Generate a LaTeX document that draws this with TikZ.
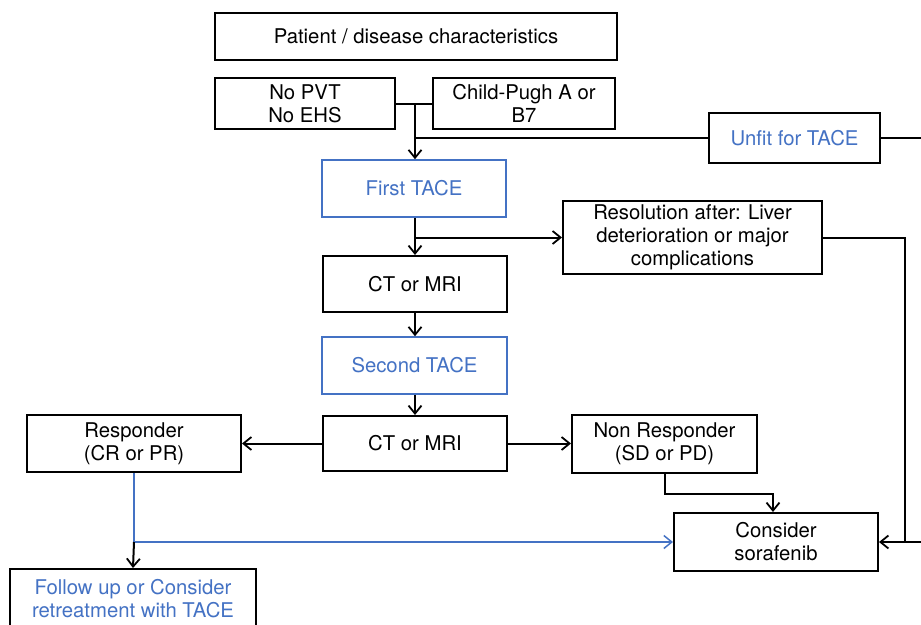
\documentclass[tikz,border=0pt]{standalone}
\usepackage{fontspec}
\setmainfont{TeX Gyre Heros}
\usetikzlibrary{arrows.meta,calc}
\definecolor{tblue}{RGB}{68,114,196}
\begin{document}
\begin{tikzpicture}[x=1pt,y=-1pt,
  box/.style={draw=black,line width=2pt,fill=white,align=center,inner sep=0pt,font=\fontsize{20.3}{23}\selectfont},
  bbox/.style={box,draw=tblue,line width=1.5pt,text=tblue},
  wire/.style={line width=2pt},
  arr/.style={wire,-{Straight Barb[length=8pt,width=13pt,line width=1.8pt]}},
  bwire/.style={draw=tblue,line width=1.6pt},
]
\useasboundingbox (0,0) rectangle (921,624);
\fill[white] (0,0) rectangle (921,624);
\clip (0,0) rectangle (921,624);
% nodes
\node[box,minimum width=402pt,minimum height=47pt] (pat) at (416,36.5) {Patient / disease characteristics};
\node[box,minimum width=180pt,minimum height=51pt] (pvt) at (305,103.5) {No PVT\\No EHS};
\node[box,minimum width=182pt,minimum height=51pt] (cp) at (524,103.5) {Child-Pugh A or\\B7};
\node[box,text=tblue,minimum width=171pt,minimum height=50pt] (unfit) at (794.5,138) {Unfit for TACE};
\node[bbox,minimum width=184pt,minimum height=57pt] (first) at (414,188.5) {First TACE};
\node[box,minimum width=259pt,minimum height=73pt] (res) at (692.5,237.5) {Resolution after: Liver\\deterioration or major\\complications};
\node[box,minimum width=184pt,minimum height=56pt] (ct1) at (415,284) {CT or MRI};
\node[bbox,minimum width=185pt,minimum height=57pt] (second) at (414.5,365.5) {Second TACE};
\node[box,minimum width=184pt,minimum height=55pt] (ct2) at (415,443.5) {CT or MRI};
\node[box,minimum width=214pt,minimum height=57pt] (resp) at (134,443.5) {Responder\\(CR or PR)};
\node[box,minimum width=185pt,minimum height=58pt] (nonr) at (664.5,443.5) {Non Responder\\(SD or PD)};
\node[box,minimum width=204pt,minimum height=58pt] (cons) at (776,542) {Consider\\sorafenib};
\node[box,text=tblue,minimum width=246pt,minimum height=60pt] (follow) at (133,599) {Follow up or Consider\\retreatment with TACE};
% connectors
\coordinate (j1) at (415,103.5);
\coordinate (j2) at (415,138);
\draw[wire] (pvt.east) -- (cp.west);
\draw[arr] (j1) -- (j1 |- first.north);
\draw[wire] (j2) -- (unfit.west);
\draw[arr] (unfit.east) -| (932,542) -- (cons.east);
\draw[wire] (res.east) -| (905,542);
\draw[arr] (first.south -| j1) -- (j1 |- ct1.north);
\draw[arr] (j1 |- res.west) -- (res.west);
\draw[arr] (ct1.south -| j1) -- (j1 |- second.north);
\draw[arr] (second.south -| j1) -- (j1 |- ct2.north);
\draw[arr] (ct2.west) -- (resp.east);
\draw[arr] (ct2.east) -- (nonr.west);
\draw[arr] (nonr.south) -- ++(0,20) -| ([xshift=-3pt]cons.north);
\coordinate (j4) at (resp.south |- cons.west);
\draw[bwire] (resp.south) -- (j4);
\draw[bwire,-{Straight Barb[length=8pt,width=13pt,line width=1.5pt]}] (j4) -- (cons.west);
\draw[arr] (j4) -- (follow.north);
\end{tikzpicture}
\end{document}
